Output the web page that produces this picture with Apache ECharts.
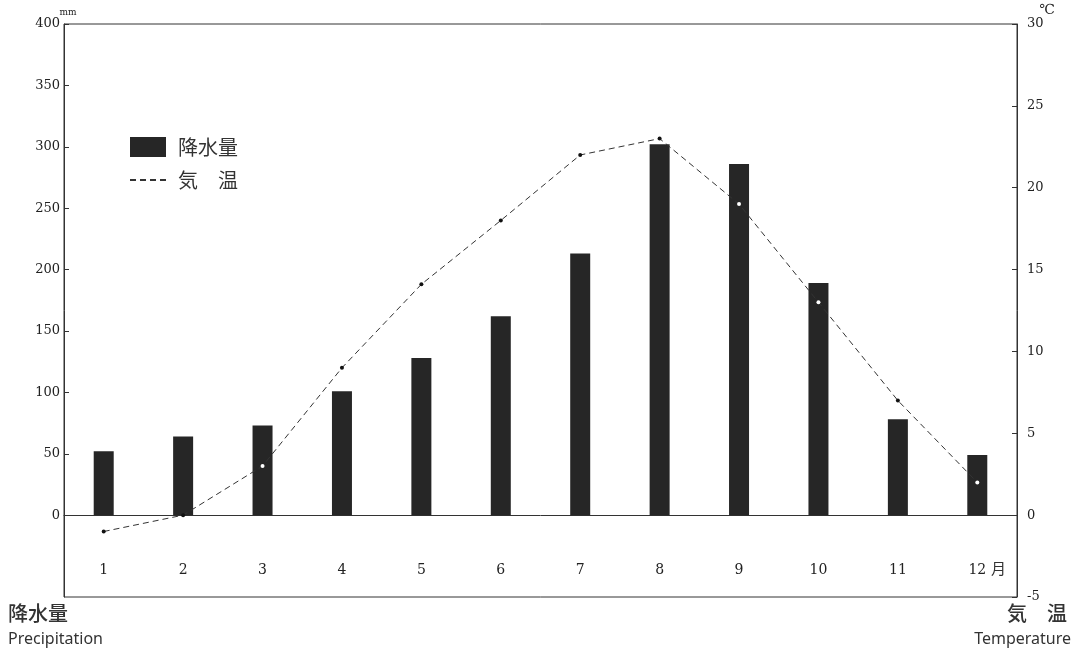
<!DOCTYPE html>
<html>
<head>
<meta charset="utf-8">
<script src="https://cdn.jsdelivr.net/npm/echarts@6/dist/echarts.min.js"></script>
<style>
html,body{margin:0;padding:0;background:#fff;}
#main{width:1083px;height:654px;}
</style>
</head>
<body>
<div id="main"></div>
<script>
var months = ['1','2','3','4','5','6','7','8','9','10','11','12'];
var precipitation = [52, 64, 73, 101, 128, 162, 213, 302, 286, 189, 78, 49];
var temperature = [-1, 0, 3, 9, 14.1, 18, 22, 23, 19, 13, 7, 2];
var precipTicks = [0, 50, 100, 150, 200, 250, 300, 350, 400];

var chart = echarts.init(document.getElementById('main'));
var serif = '"DejaVu Serif", "Liberation Serif", serif';
var cjk = '"Noto Sans CJK JP", "Noto Sans", sans-serif';

chart.setOption({
  animation: false,
  backgroundColor: '#fff',
  grid: { left: 64, right: 66, top: 24, bottom: 57, show: true, borderColor: '#333', borderWidth: 1, backgroundColor: 'transparent', outerBoundsMode: 'none', containLabel: false },
  legend: {
    left: 124, top: 132, orient: 'vertical',
    itemWidth: 36, itemHeight: 20, itemGap: 13,
    textStyle: { fontFamily: cjk, fontSize: 20, color: '#333', padding: [0, 0, 0, 7] },
    data: [
      { name: '降水量', icon: 'rect' },
      { name: '気　温', itemStyle: { opacity: 0 } }
    ]
  },
  xAxis: {
    type: 'category',
    data: months,
    axisLine: { onZero: true, lineStyle: { color: '#333', width: 1 } },
    axisTick: { show: false },
    axisLabel: { inside: true, margin: 20, fontFamily: serif, fontSize: 14, color: '#222' },
    splitLine: { show: false }
  },
  yAxis: [
    {
      type: 'value',
      min: -400 / 6, max: 400,
      name: 'mm', nameLocation: 'end', nameGap: 5,
      nameTextStyle: { fontFamily: serif, fontSize: 9, color: '#222', padding: [0, 0, 0, 8] },
      axisLine: { show: true, lineStyle: { color: '#333' } },
      axisTick: { show: true, inside: true, length: 5, customValues: precipTicks, lineStyle: { color: '#333' } },
      axisLabel: { customValues: precipTicks, margin: 4, fontFamily: serif, fontSize: 13, color: '#222' },
      splitLine: { show: false }
    },
    {
      type: 'value',
      min: -5, max: 30, interval: 5,
      position: 'right',
      name: '℃', nameLocation: 'end', nameGap: 2,
      nameTextStyle: { fontFamily: serif, fontSize: 14, color: '#222', padding: [0, 0, 0, 60] },
      axisLine: { show: true, lineStyle: { color: '#333' } },
      axisTick: { show: true, inside: true, length: 5, lineStyle: { color: '#333' } },
      axisLabel: { margin: 10, fontFamily: serif, fontSize: 13, color: '#222' },
      splitLine: { show: false }
    }
  ],
  series: [
    {
      name: '降水量',
      type: 'bar',
      yAxisIndex: 0,
      data: precipitation,
      barWidth: 20,
      itemStyle: { color: '#262626' }
    },
    {
      name: '気　温',
      type: 'line',
      yAxisIndex: 1,
      data: temperature,
      symbol: 'circle',
      symbolSize: 4,
      lineStyle: { color: '#333', width: 1, type: [6, 4] },
      itemStyle: {
        color: function (p) {
          var mm = p.value * 400 / 30;
          return (mm > 5 && mm < precipitation[p.dataIndex]) ? '#fff' : '#111';
        },
        borderWidth: 0
      },
      z: 5
    }
  ],
  graphic: [
    { type: 'text', left: 991, top: 561, style: { text: '月', font: '15px ' + cjk, fill: '#333' } },
    { type: 'text', left: 8, top: 603, style: { text: '降水量', font: '500 20px ' + cjk, fill: '#333' } },
    { type: 'text', left: 8, top: 631, style: { text: 'Precipitation', font: '16px "Noto Sans", sans-serif', fill: '#333' } },
    { type: 'text', right: 16, top: 603, style: { text: '気　温', font: '500 20px ' + cjk, fill: '#333' } },
    { type: 'text', right: 12, top: 631, style: { text: 'Temperature', font: '16px "Noto Sans", sans-serif', fill: '#333' } }
  ]
});
</script>
</body>
</html>
